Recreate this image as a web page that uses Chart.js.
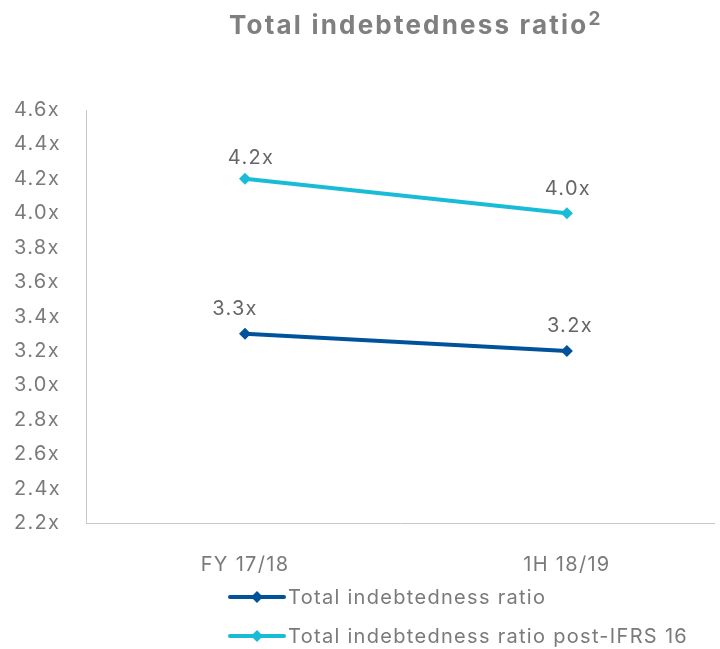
<!DOCTYPE html>
<html>
<head>
<meta charset="utf-8">
<script src="https://cdn.jsdelivr.net/npm/chart.js@4.4.1/dist/chart.umd.min.js"></script>
<style>
html,body{margin:0;padding:0;background:#fff;}
#wrap{width:720px;height:649px;position:relative;}
</style>
</head>
<body>
<div id="wrap"><canvas id="c"></canvas></div>
<script>
const categories = ['FY 17/18', '1H 18/19'];
const seriesNames = ['Total indebtedness ratio', 'Total indebtedness ratio post-IFRS 16'];
const ratio = [3.3, 3.2];
const ratioPostIFRS16 = [4.2, 4.0];
const yTicks = [2.2, 2.4, 2.6, 2.8, 3.0, 3.2, 3.4, 3.6, 3.8, 4.0, 4.2, 4.4, 4.6];
const titleText = 'Total indebtedness ratio';
const titleSup = '2';

const FONT = 'Inter, Roboto, sans-serif';
const SPACING = '1.3px';
const colors = ['#00529b', '#19bcd6'];
// label nudges (dx, baseline distance above point) per dataset/point
const labelNudge = [[[-10, 19], [3, 19]], [[6, 15], [1, 18]]];

const toXY = arr => arr.map((v, i) => ({x: i, y: v}));

const spacingPlugin = {
  id: 'spacing',
  beforeUpdate(chart) { chart.ctx.letterSpacing = SPACING; },
  beforeLayout(chart) { chart.ctx.letterSpacing = SPACING; },
  beforeDraw(chart) { chart.ctx.letterSpacing = SPACING; }
};

const titlePlugin = {
  id: 'customTitle',
  afterDraw(chart) {
    const ctx = chart.ctx;
    ctx.save();
    ctx.letterSpacing = '2.2px';
    ctx.fillStyle = '#7f7f7f';
    ctx.textBaseline = 'alphabetic';
    ctx.textAlign = 'left';
    ctx.font = 'bold 26px ' + FONT;
    const x0 = 229;
    const w1 = ctx.measureText(titleText).width;
    ctx.fillText(titleText, x0, 34);
    ctx.font = 'bold 19px ' + FONT;
    ctx.letterSpacing = '0px';
    ctx.fillText(titleSup, x0 + w1, 25);
    ctx.restore();
  }
};

const dataLabelPlugin = {
  id: 'dataLabels',
  afterDatasetsDraw(chart) {
    const ctx = chart.ctx;
    ctx.save();
    ctx.letterSpacing = SPACING;
    ctx.font = '20px ' + FONT;
    ctx.fillStyle = '#666666';
    ctx.textAlign = 'center';
    ctx.textBaseline = 'alphabetic';
    chart.data.datasets.forEach((ds, di) => {
      const meta = chart.getDatasetMeta(di);
      meta.data.forEach((pt, i) => {
        const v = ds.data[i].y;
        const n = labelNudge[di][i];
        ctx.fillText(v.toFixed(1) + 'x', pt.x + n[0], pt.y - n[1]);
      });
    });
    ctx.restore();
  }
};

const legendPlugin = {
  id: 'customLegend',
  afterDraw(chart) {
    const ctx = chart.ctx;
    const base = chart.chartArea.bottom;
    const rows = [base + 74, base + 113];
    ctx.save();
    chart.data.datasets.forEach((ds, di) => {
      const y = rows[di];
      const x0 = 230, x1 = 284, xm = 257;
      ctx.strokeStyle = ds.borderColor;
      ctx.lineWidth = 4;
      ctx.lineCap = 'round';
      ctx.beginPath();
      ctx.moveTo(x0, y);
      ctx.lineTo(x1, y);
      ctx.stroke();
      ctx.fillStyle = ds.borderColor;
      ctx.beginPath();
      const r = 6;
      ctx.moveTo(xm, y - r);
      ctx.lineTo(xm + r, y);
      ctx.lineTo(xm, y + r);
      ctx.lineTo(xm - r, y);
      ctx.closePath();
      ctx.fill();
      ctx.letterSpacing = SPACING;
      ctx.fillStyle = '#7a7a7a';
      ctx.font = '20px ' + FONT;
      ctx.textAlign = 'left';
      ctx.textBaseline = 'middle';
      ctx.fillText(ds.label, 288, y + 1);
    });
    ctx.restore();
  }
};

new Chart(document.getElementById('c'), {
  type: 'line',
  data: {
    datasets: [
      {
        label: seriesNames[0],
        data: toXY(ratio),
        borderColor: colors[0],
        backgroundColor: colors[0],
        borderWidth: 4,
        pointStyle: 'rectRot',
        pointRadius: 6,
        pointHoverRadius: 6,
        pointBorderWidth: 0,
        fill: false,
        tension: 0
      },
      {
        label: seriesNames[1],
        data: toXY(ratioPostIFRS16),
        borderColor: colors[1],
        backgroundColor: colors[1],
        borderWidth: 4,
        pointStyle: 'rectRot',
        pointRadius: 6,
        pointHoverRadius: 6,
        pointBorderWidth: 0,
        fill: false,
        tension: 0
      }
    ]
  },
  options: {
    responsive: true,
    maintainAspectRatio: false,
    animation: false,
    layout: { padding: { top: 110, left: 14, right: 2, bottom: 66 } },
    plugins: {
      legend: { display: false },
      title: { display: false },
      tooltip: { enabled: false }
    },
    scales: {
      x: {
        type: 'linear',
        min: -0.494,
        max: 1.457,
        afterBuildTicks(axis) { axis.ticks = categories.map((c, i) => ({ value: i })); },
        afterFit(axis) { axis.height = 60; },
        grid: { display: false, drawTicks: false },
        border: { display: true, color: '#c8c8c8', width: 1 },
        ticks: {
          padding: 30,
          color: '#7a7a7a',
          font: { family: FONT, size: 20 },
          callback: (v) => categories[v] !== undefined ? categories[v] : ''
        }
      },
      y: {
        min: yTicks[0],
        max: yTicks[yTicks.length - 1],
        afterBuildTicks(axis) { axis.ticks = yTicks.map(v => ({ value: v })); },
        afterFit(axis) { axis.width = 72; },
        grid: { display: false, drawTicks: false },
        border: { display: true, color: '#c8c8c8', width: 1 },
        ticks: {
          crossAlign: 'far',
          padding: 0,
          color: '#7a7a7a',
          font: { family: FONT, size: 20 },
          callback: (v) => Number(v).toFixed(1) + 'x'
        }
      }
    }
  },
  plugins: [spacingPlugin, titlePlugin, dataLabelPlugin, legendPlugin]
});
</script>
</body>
</html>
